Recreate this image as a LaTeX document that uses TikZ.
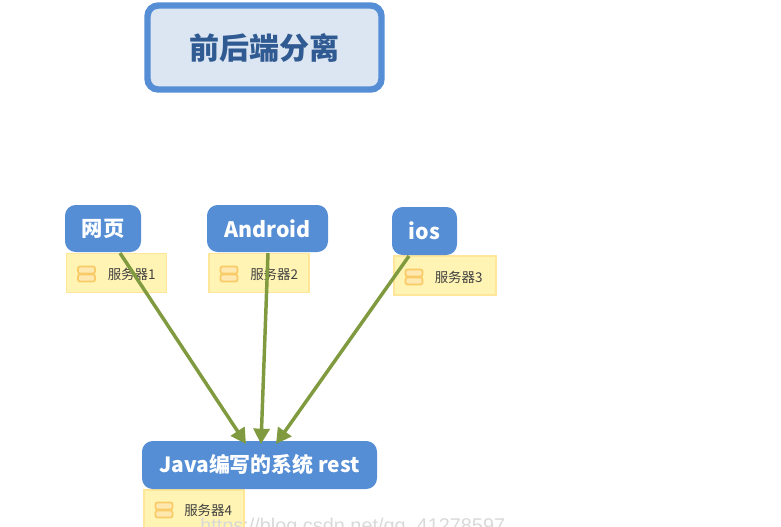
\documentclass[tikz,border=0pt]{standalone}
\usepackage{fontspec}
\setmainfont{Noto Sans CJK SC}
\newfontfamily\wmfont{Liberation Sans}
\usetikzlibrary{arrows.meta,calc}
\definecolor{topicblue}{HTML}{558ED5}
\definecolor{titlefill}{HTML}{DCE6F2}
\definecolor{titletext}{HTML}{2F5A92}
\definecolor{notefill}{HTML}{FFF4B3}
\definecolor{noteline}{HTML}{FFE699}
\definecolor{iconline}{HTML}{F9CB66}
\definecolor{iconfill}{HTML}{FFE8B0}
\definecolor{arrowgreen}{HTML}{7F9A3F}
\definecolor{notetext}{HTML}{404040}
\def\pxu{0.75pt}
\tikzset{
  x=0.75pt,y=-0.75pt,
  titlebox/.style={draw=topicblue,fill=titlefill,line width=4.8pt,rounded corners=8pt,outer sep=0pt,inner sep=0pt,
    text=titletext,font=\bfseries\fontsize{22.5}{26}\selectfont},
  topic/.style={fill=topicblue,rounded corners=8pt,outer sep=0pt,inner sep=0pt,text=white,
    font=\bfseries\fontsize{16}{19}\selectfont},
  note/.style={draw=noteline,fill=notefill,line width=0.8pt,outer sep=0pt,inner sep=0pt},
  notelabel/.style={anchor=west,inner sep=0pt,text=notetext,font=\fontsize{10.1}{12}\selectfont},
  iconbar/.style={draw=iconline,fill=iconfill,line width=1.3pt,rounded corners=1.5pt,inner sep=0pt,outer sep=0pt,
    minimum width=17*\pxu,minimum height=7*\pxu},
  link/.style={draw=arrowgreen,line width=2.6pt,-{Triangle[length=11.5pt,width=12pt]},shorten >=0pt},
  watermark/.style={anchor=base west,inner sep=0pt,text=black!15,font=\wmfont\fontsize{14.9}{18}\selectfont}
}
\begin{document}
\begin{tikzpicture}
\useasboundingbox (0,0) rectangle (781,526);
\node[titlebox,minimum width=234*\pxu,minimum height=84*\pxu] (title) at (264.5,47.5) {前后端分离};
% notes
\node[note,minimum width=100*\pxu,minimum height=39*\pxu] (n1) at (116.5,273) {};
\node[note,minimum width=100*\pxu,minimum height=39*\pxu] (n2) at (259,273) {};
\node[note,minimum width=102*\pxu,minimum height=39*\pxu] (n3) at (445,275.5) {};
\node[note,minimum width=100*\pxu,minimum height=40*\pxu] (n4) at (194,510) {};
% icons and note labels
\foreach \n/\ix/\iy/\tx/\lab in {1/86.5/274/107.5/服务器1, 2/229/274/250/服务器2, 3/414/277/434.5/服务器3, 4/164/510/184/服务器4}{
  \node[iconbar] (ia\n) at (\ix,\iy-4) {};
  \node[iconbar] (ib\n) at (\ix,\iy+4) {};
  \node[notelabel] (t\n) at (\tx,\iy) {\lab};
}
% topics
\node[topic,minimum width=76*\pxu,minimum height=47*\pxu] (web) at (103,228.5) {网页};
\node[topic,minimum width=121*\pxu,minimum height=47*\pxu] (android) at (267.5,228.5) {Android};
\node[topic,minimum width=65*\pxu,minimum height=48*\pxu] (ios) at (424.5,231) {ios};
\node[topic,minimum width=235*\pxu,minimum height=48*\pxu,font=\bfseries\fontsize{15.7}{19}\selectfont] (java) at (259.5,465) {Java编写的系统 rest};
% connectors
\draw[link] ($(web.south)+(17,1)$) -- ($(java.north)+(-13.5,3)$);
\draw[link] ($(android.south)+(0.5,1)$) -- ($(java.north)+(1.5,3)$);
\draw[link] ($(ios.south)+(-15.5,1)$) -- ($(java.north)+(16.5,3)$);
\node[watermark] (wm) at (200,532.5) {https://blog.csdn.net/qq\_41278597};
\end{tikzpicture}
\end{document}
